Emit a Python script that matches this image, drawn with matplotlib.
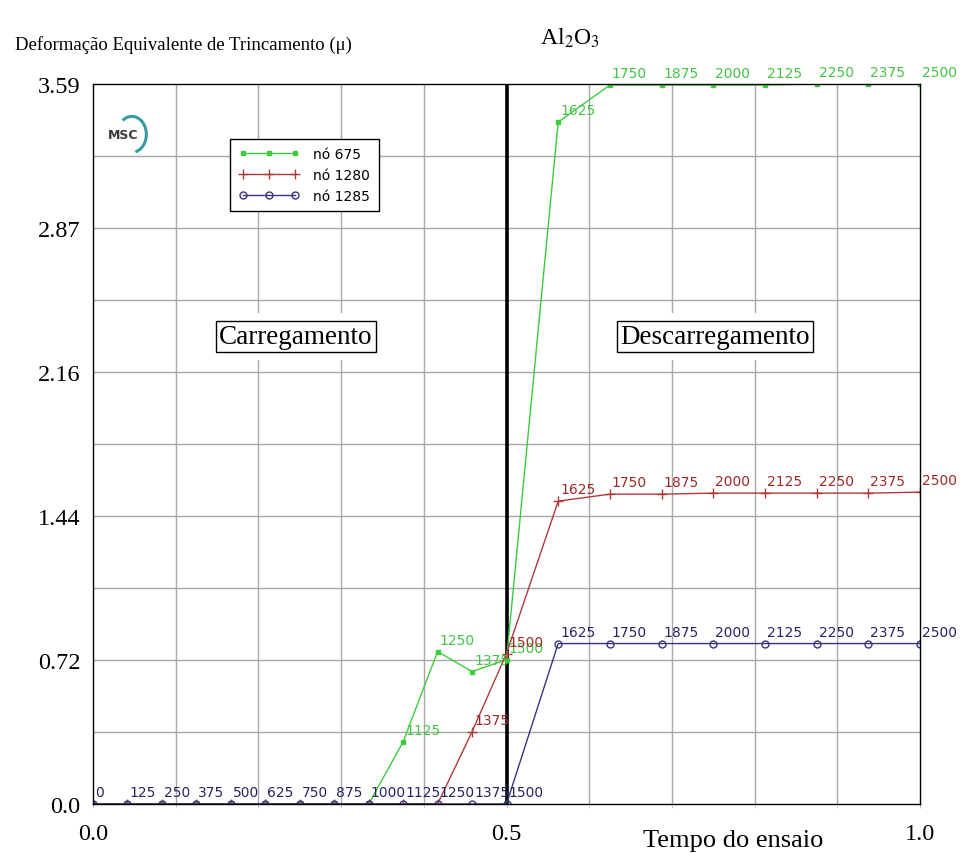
#!/usr/bin/env python3
import numpy as np
import matplotlib
matplotlib.use("Agg")
import matplotlib.pyplot as plt
from matplotlib.patches import Arc

plt.rcParams['mathtext.fontset'] = 'stix'

# time of each sample (normalised) and the step number shown next to it
tempo = [0, 1/24, 2/24, 3/24, 4/24, 5/24, 6/24, 7/24, 8/24, 9/24, 10/24, 11/24, 0.5,
         0.5625, 0.625, 0.6875, 0.75, 0.8125, 0.875, 0.9375, 1.0]
passos = [0, 125, 250, 375, 500, 625, 750, 875, 1000, 1125, 1250, 1375, 1500,
          1625, 1750, 1875, 2000, 2125, 2250, 2375, 2500]

no_675 = [0, 0, 0, 0, 0, 0, 0, 0, 0, 0.31, 0.76, 0.66, 0.72,
          3.40, 3.585, 3.585, 3.585, 3.585, 3.59, 3.59, 3.59]
no_1280 = [0, 0, 0, 0, 0, 0, 0, 0, 0, 0, 0, 0.36, 0.75,
           1.51, 1.545, 1.545, 1.55, 1.55, 1.55, 1.55, 1.555]
no_1285 = [0, 0, 0, 0, 0, 0, 0, 0, 0, 0, 0, 0, 0,
           0.80, 0.80, 0.80, 0.80, 0.80, 0.80, 0.80, 0.80]

y_ticks = [0, 0.718, 1.436, 2.154, 2.872, 3.59]
y_tick_labels = ['0.0', '0.72', '1.44', '2.16', '2.87', '3.59']
x_ticks = [0.0, 0.5, 1.0]
x_tick_labels = ['0.0', '0.5', '1.0']

serif = 'Liberation Serif'

fig = plt.figure(figsize=(9.6, 8.54), dpi=100)
ax = fig.add_axes([93/960, 49/854, 827/960, 720/854])

ax.set_xlim(0, 1)
ax.set_ylim(0, 3.59)

# grid every 0.1 in x and every 0.359 in y
for gx in np.arange(0.1, 1.0, 0.1):
    ax.axvline(gx, color='#a8a8a8', lw=1, zorder=0)
for gy in np.arange(1, 10) * 0.359:
    ax.axhline(gy, color='#a8a8a8', lw=1, zorder=0)

ax.axvline(0.5, color='black', lw=2.6, zorder=1.5)

ax.plot(tempo, no_675, color='#3dcc3d', lw=1, marker='s', ms=2.2,
        label='nó 675', zorder=2)
ax.plot(tempo, no_1280, color='#b03a3a', lw=1, marker='+', ms=7, mew=1,
        label='nó 1280', zorder=2.1)
ax.plot(tempo, no_1285, color='#353580', lw=1, marker='o', ms=5, mfc='none',
        mew=1, label='nó 1285', zorder=2.2)

# point labels; the zero points of the first two curves sit under the blue ones
series = [(no_675, '#44c444', False), (no_1280, '#a02828', False),
          (no_1285, '#252560', True)]
for vals, cor, todos in series:
    for t, v, p in zip(tempo, vals, passos):
        if v == 0 and not todos:
            continue
        ax.annotate(str(p), (t, v), xytext=(2, 5), textcoords='offset pixels',
                    ha='left', va='bottom', fontsize=10, color=cor,
                    annotation_clip=False, zorder=3)

for s in ax.spines.values():
    s.set_color('black')
    s.set_linewidth(1)
    s.set_zorder(2.5)

ax.set_yticks(y_ticks)
ax.set_yticklabels(y_tick_labels, fontfamily=serif, fontsize=17.5)
ax.set_xticks(x_ticks)
ax.set_xticklabels(x_tick_labels, fontfamily=serif, fontsize=17.5)
ax.set_xticks(np.arange(0.1, 1.0, 0.1), minor=True)
ax.tick_params(axis='y', length=0, pad=9)
ax.tick_params(axis='x', which='both', length=3, pad=11, color='#c0c0c0')

leg = ax.legend(loc='upper left', bbox_to_anchor=(0.1657, 0.924), numpoints=3,
                fancybox=False, edgecolor='black', framealpha=1,
                prop={'family': 'DejaVu Sans', 'size': 10}, handlelength=4.4,
                borderpad=0.6, labelspacing=0.5, handletextpad=1.0,
                borderaxespad=0)
leg.get_frame().set_linewidth(1)

caixa = dict(boxstyle='square,pad=0.12', facecolor='white', edgecolor='black', lw=1)
fundo = dict(boxstyle='square,pad=0.4', facecolor='white', edgecolor='none')
for xt, txt in [(0.245, 'Carregamento'), (0.752, 'Descarregamento')]:
    ax.text(xt, 2.33, txt, ha='center', va='center', fontfamily=serif,
            fontsize=19.5, bbox=fundo, color='white', zorder=1)
    ax.text(xt, 2.33, txt, ha='center', va='center', fontfamily=serif,
            fontsize=19.5, bbox=caixa, zorder=1.2)

# MSC logo
ax.text(0.018, 0.93, 'MSC', transform=ax.transAxes, fontsize=9,
        fontweight='bold', color='#3a3a3a', ha='left', va='center')
ax.add_patch(Arc((0.047, 0.93), 0.035, 0.05, theta1=-80, theta2=120,
                 transform=ax.transAxes, color='#3a9aa0', lw=2.2))

fig.text(15/960, 1 - 45/854, 'Deformação Equivalente de Trincamento (μ)',
         fontfamily=serif, fontsize=13.5, ha='left', va='center')
fig.text(540/960, 1 - 38/854, r'Al$_2$O$_3$', fontfamily=serif, fontsize=17,
         ha='left', va='center')
fig.text(733/960, 1 - 841/854, 'Tempo do ensaio', fontfamily=serif,
         fontsize=19, ha='center', va='center')

fig.savefig('out.png', dpi=100)
